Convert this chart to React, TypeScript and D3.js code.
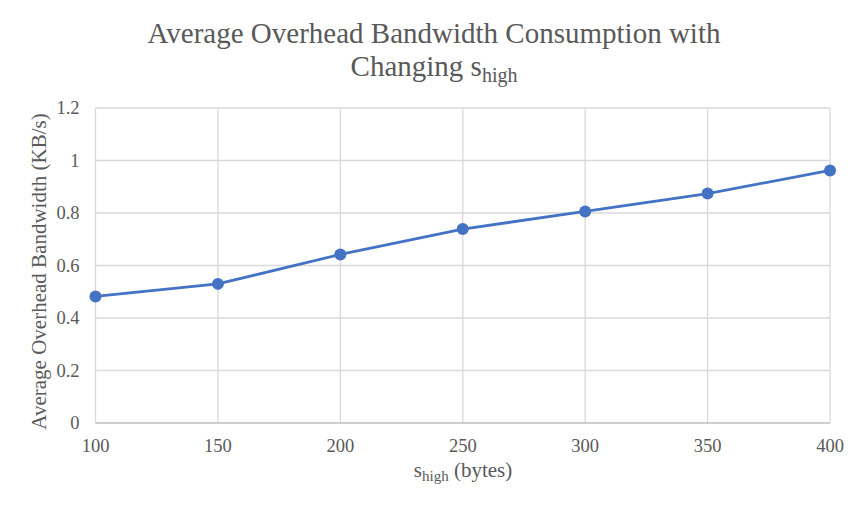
import { useEffect, useRef } from 'react';
import * as d3 from 'd3';

const sizes = [100, 150, 200, 250, 300, 350, 400];
const bandwidth = [0.482, 0.53, 0.642, 0.739, 0.806, 0.874, 0.962];
const yTicks = [0, 0.2, 0.4, 0.6, 0.8, 1, 1.2];

const W = 867;
const H = 511;
const FONT = '"Liberation Serif", "Times New Roman", serif';
const TEXT = '#595959';

export default function App() {
  const svgRef = useRef<SVGSVGElement>(null);

  useEffect(() => {
    if (!svgRef.current) return;
    const svg = d3.select(svgRef.current);
    svg.selectAll('*').remove();

    const margin = { top: 108, right: 37, bottom: 88, left: 95.5 };
    const x = d3.scaleLinear().domain([100, 400]).range([margin.left, W - margin.right]);
    const y = d3.scaleLinear().domain([0, 1.2]).range([H - margin.bottom, margin.top]);

    svg.append('rect').attr('width', W).attr('height', H).attr('fill', '#fff');

    // gridlines
    svg.append('g')
      .selectAll('line.h')
      .data(yTicks.slice(1))
      .join('line')
      .attr('x1', x(100)).attr('x2', x(400))
      .attr('y1', d => y(d)).attr('y2', d => y(d))
      .attr('stroke', '#d9d9d9').attr('stroke-width', 1.3);

    svg.append('g')
      .selectAll('line.v')
      .data(sizes)
      .join('line')
      .attr('x1', d => x(d)).attr('x2', d => x(d))
      .attr('y1', y(0)).attr('y2', y(1.2))
      .attr('stroke', '#d9d9d9').attr('stroke-width', 1.3);

    // x axis line
    svg.append('line')
      .attr('x1', x(100)).attr('x2', x(400))
      .attr('y1', y(0)).attr('y2', y(0))
      .attr('stroke', '#bfbfbf').attr('stroke-width', 1.3);

    // tick labels
    svg.append('g')
      .selectAll('text')
      .data(yTicks)
      .join('text')
      .attr('x', margin.left - 16)
      .attr('y', d => y(d))
      .attr('dy', '0.35em')
      .attr('text-anchor', 'end')
      .attr('font-family', FONT).attr('font-size', 18.5).attr('fill', TEXT)
      .text(d => String(d));

    svg.append('g')
      .selectAll('text')
      .data(sizes)
      .join('text')
      .attr('x', d => x(d))
      .attr('y', y(0) + 29)
      .attr('text-anchor', 'middle')
      .attr('font-family', FONT).attr('font-size', 18.5).attr('fill', TEXT)
      .text(d => String(d));

    // line + markers
    const line = d3.line<number>()
      .x((_, i) => x(sizes[i]))
      .y(d => y(d));

    svg.append('path')
      .datum(bandwidth)
      .attr('d', line)
      .attr('fill', 'none')
      .attr('stroke', '#4472c4')
      .attr('stroke-width', 2.8)
      .attr('stroke-linejoin', 'round');

    svg.append('g')
      .selectAll('circle')
      .data(bandwidth)
      .join('circle')
      .attr('cx', (_, i) => x(sizes[i]))
      .attr('cy', d => y(d))
      .attr('r', 6)
      .attr('fill', '#4472c4');

    // title
    const title = svg.append('text')
      .attr('text-anchor', 'middle')
      .attr('font-family', FONT).attr('font-size', 29).attr('fill', TEXT);
    title.append('tspan').attr('x', 434).attr('y', 43).text('Average Overhead Bandwidth Consumption with');
    title.append('tspan').attr('x', 434).attr('y', 76).text('Changing s');
    title.append('tspan').attr('dy', 6).attr('font-size', 20).text('high');

    // x axis title
    const xt = svg.append('text')
      .attr('x', 463).attr('y', 477)
      .attr('text-anchor', 'middle')
      .attr('font-family', FONT).attr('font-size', 21).attr('fill', TEXT);
    xt.append('tspan').text('s');
    xt.append('tspan').attr('dy', 4).attr('font-size', 15).text('high');
    xt.append('tspan').attr('dy', -4).text(' (bytes)');

    // y axis title
    svg.append('text')
      .attr('transform', `translate(46, ${(y(0) + y(1.2)) / 2 + 6}) rotate(-90)`)
      .attr('text-anchor', 'middle')
      .attr('font-family', FONT).attr('font-size', 21).attr('fill', TEXT)
      .text('Average Overhead Bandwidth (KB/s)');
  }, []);

  return <svg ref={svgRef} width={W} height={H} style={{ display: 'block', margin: '-8px' }} />;
}
